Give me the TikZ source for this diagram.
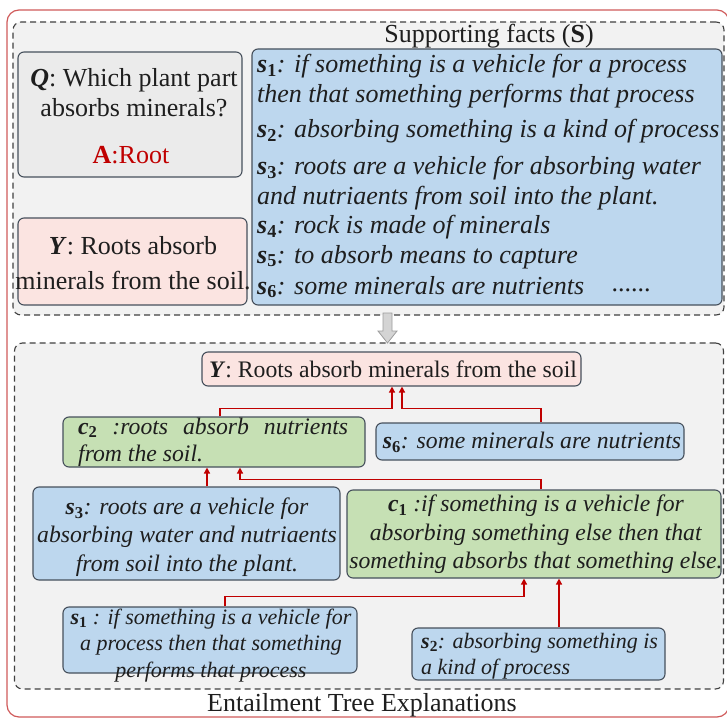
\documentclass[tikz,border=0pt]{standalone}
\usepackage{fontspec}
\setmainfont{Liberation Serif}
\usetikzlibrary{arrows.meta}

\definecolor{framered}{HTML}{D05A5A}
\definecolor{panelbg}{HTML}{F2F2F2}
\definecolor{panelline}{HTML}{404040}
\definecolor{qfill}{HTML}{EBEBEB}
\definecolor{yfill}{HTML}{FBE4E1}
\definecolor{bluefill}{HTML}{BDD7EE}
\definecolor{greenfill}{HTML}{C6E0B4}
\definecolor{boxline}{HTML}{46505C}
\definecolor{linkred}{HTML}{C00000}
\definecolor{inkcol}{HTML}{1E1E1E}
\definecolor{arrowgray}{HTML}{D4D4D4}
\definecolor{arrowedge}{HTML}{9C9C9C}

% bold italic variable with a numeric index
\newcommand\sv[1]{\textbf{\textit{s}\textsubscript{#1}}}
\newcommand\cv[1]{\textbf{\textit{c}\textsubscript{#1}}}

\begin{document}
\begin{tikzpicture}[x=1pt,y=-1pt,
  txt/.style={inner sep=0pt, text=inkcol, font=\fontsize{26}{30}\selectfont},
  treetxt/.style={txt, font=\fontsize{23.7}{28.5}\selectfont},
  smalltxt/.style={txt, font=\fontsize{22}{26.5}\selectfont},
  panel/.style={draw=panelline, line width=1.1pt, dash pattern=on 6pt off 4pt,
    fill=panelbg, rounded corners=8pt, inner sep=0pt},
  card/.style={draw=boxline, line width=1.1pt, rounded corners=6pt, inner sep=0pt},
  qcard/.style={card, fill=qfill},
  ycard/.style={card, fill=yfill},
  bluecard/.style={card, fill=bluefill},
  greencard/.style={card, fill=greenfill},
  link/.style={draw=linkred, line width=1.4pt, -{Triangle[length=6pt,width=6pt]}},
]
\useasboundingbox (0,0) rectangle (727,719);

% outer frame and the two panels
\node[draw=framered, line width=1.2pt, rounded corners=12pt, inner sep=0pt,
  minimum width=722pt, minimum height=707pt] (frame) at (368,363.5) {};
\node[panel, minimum width=711pt, minimum height=293pt] (toppanel) at (368.5,168.5) {};
\node[panel, minimum width=709pt, minimum height=346pt] (botpanel) at (369,516) {};

% ---------------- upper panel ----------------
\node[txt] (stitle) at (489,36) {Supporting facts (\textbf{S})};

\node[qcard, minimum width=224pt, minimum height=125pt] (qbox) at (130,114.5) {};
\node[txt, align=center] (qtxt) at (134,93) {\textbf{\textit{Q}}: Which plant part\\absorbs minerals?};
\node[txt, text=linkred] (atxt) at (131,155) {\textbf{A}:Root};

\node[ycard, minimum width=229pt, minimum height=87pt] (ybox) at (132.5,261.5) {};
\node[txt, align=center, font=\fontsize{26}{35}\selectfont] (ytxt) at (133,263)
  {\textbf{\textit{Y}}: Roots absorb\\minerals from the soil.};

\node[bluecard, minimum width=470pt, minimum height=256pt] (sbox) at (487,177) {};
\node[txt, align=left, anchor=west] (f1) at (257,81)
  {\sv{1}\textit{: if something is a vehicle for a process}\\\textit{then that something performs that process}};
\node[txt, anchor=west] (f2) at (257,131) {\sv{2}\textit{: absorbing something is a kind of process}};
\node[txt, align=left, anchor=west] (f3) at (257,183.5)
  {\sv{3}\textit{: roots are a vehicle for absorbing water}\\\textit{and nutriaents from soil into the plant.}};
\node[txt, anchor=west] (f4) at (257,227) {\sv{4}\textit{: rock is made of minerals}};
\node[txt, anchor=west] (f5) at (257,257) {\sv{5}\textit{: to absorb means to capture}};
\node[txt, anchor=west] (f6) at (257,287) {\sv{6}\textit{: some minerals are nutrients}};
\node[txt] (fmore) at (631,290) {......};

% block arrow between the panels
\draw[fill=arrowgray, draw=arrowedge, line width=0.8pt]
  (383,313) -- (392,313) -- (392,331) -- (397,331) -- (387.5,343)
  -- (378,331) -- (383,331) -- cycle;

% ---------------- lower panel: entailment tree ----------------
\node[ycard, minimum width=379pt, minimum height=34pt] (hyp) at (391.5,369) {};
\node[treetxt] (hyptxt) at (393,369) {\textbf{\textit{Y}}: Roots absorb minerals from the soil};

\node[greencard, minimum width=302pt, minimum height=50pt] (c2box) at (214,442) {};
\node[treetxt, align=left, anchor=west, font=\fontsize{23.7}{27}\selectfont] (c2txt) at (78,442)
  {\makebox[270pt][s]{\cv{2} \textit{:roots absorb nutrients}}\\\textit{from the soil.}};

\node[bluecard, minimum width=308pt, minimum height=37pt] (s6box) at (530,441.5) {};
\node[treetxt] (s6txt) at (532,442) {\sv{6}\textit{: some minerals are nutrients}};

\node[bluecard, minimum width=307pt, minimum height=93pt] (s3box) at (186.5,533.5) {};
\node[treetxt, align=center] (s3txt) at (187,537)
  {\sv{3}\textit{: roots are a vehicle for}\\\textit{absorbing water and nutriaents}\\\textit{from soil into the plant.}};

\node[greencard, minimum width=374pt, minimum height=88pt] (c1box) at (534,534) {};
\node[treetxt, align=center] (c1txt) at (536,534.5)
  {\cv{1} \textit{:if something is a vehicle for}\\\textit{absorbing something else then that}\\\textit{something absorbs that something else.}};

\node[bluecard, minimum width=294pt, minimum height=66pt] (s1box) at (210,640) {};
\node[smalltxt, align=center] (s1txt) at (211,645.5)
  {\sv{1}\textit{ : if something is a vehicle for}\\\textit{a process then that something}\\\textit{performs that process}};

\node[bluecard, minimum width=253pt, minimum height=52pt] (s2box) at (538.5,654) {};
\node[smalltxt, align=left, anchor=west] (s2txt) at (421,656)
  {\sv{2}\textit{: absorbing something is}\\\textit{a kind of process}};

\node[txt] (etitle) at (362,705) {Entailment Tree Explanations};

% inference links
\draw[link] ([xshift=6pt]c2box.north) -- ++(0,-8) -| ([xshift=0.5pt]hyp.south);
\draw[link] ([xshift=11pt]s6box.north) -- ++(0,-14) -| ([xshift=10.5pt]hyp.south);
\draw[link] ([xshift=7pt]c1box.north) -- ++(0,-10) -| ([xshift=26pt]c2box.south);
\draw[link] ([xshift=20.5pt]s3box.north) -- ([xshift=20.5pt]s3box.north |- c2box.south);
\draw[link] ([xshift=15pt]s1box.north) -- ++(0,-10) -| ([xshift=-10pt]c1box.south);
\draw[link] ([xshift=20.5pt]s2box.north) -- ([xshift=20.5pt]s2box.north |- c1box.south);
\end{tikzpicture}
\end{document}
